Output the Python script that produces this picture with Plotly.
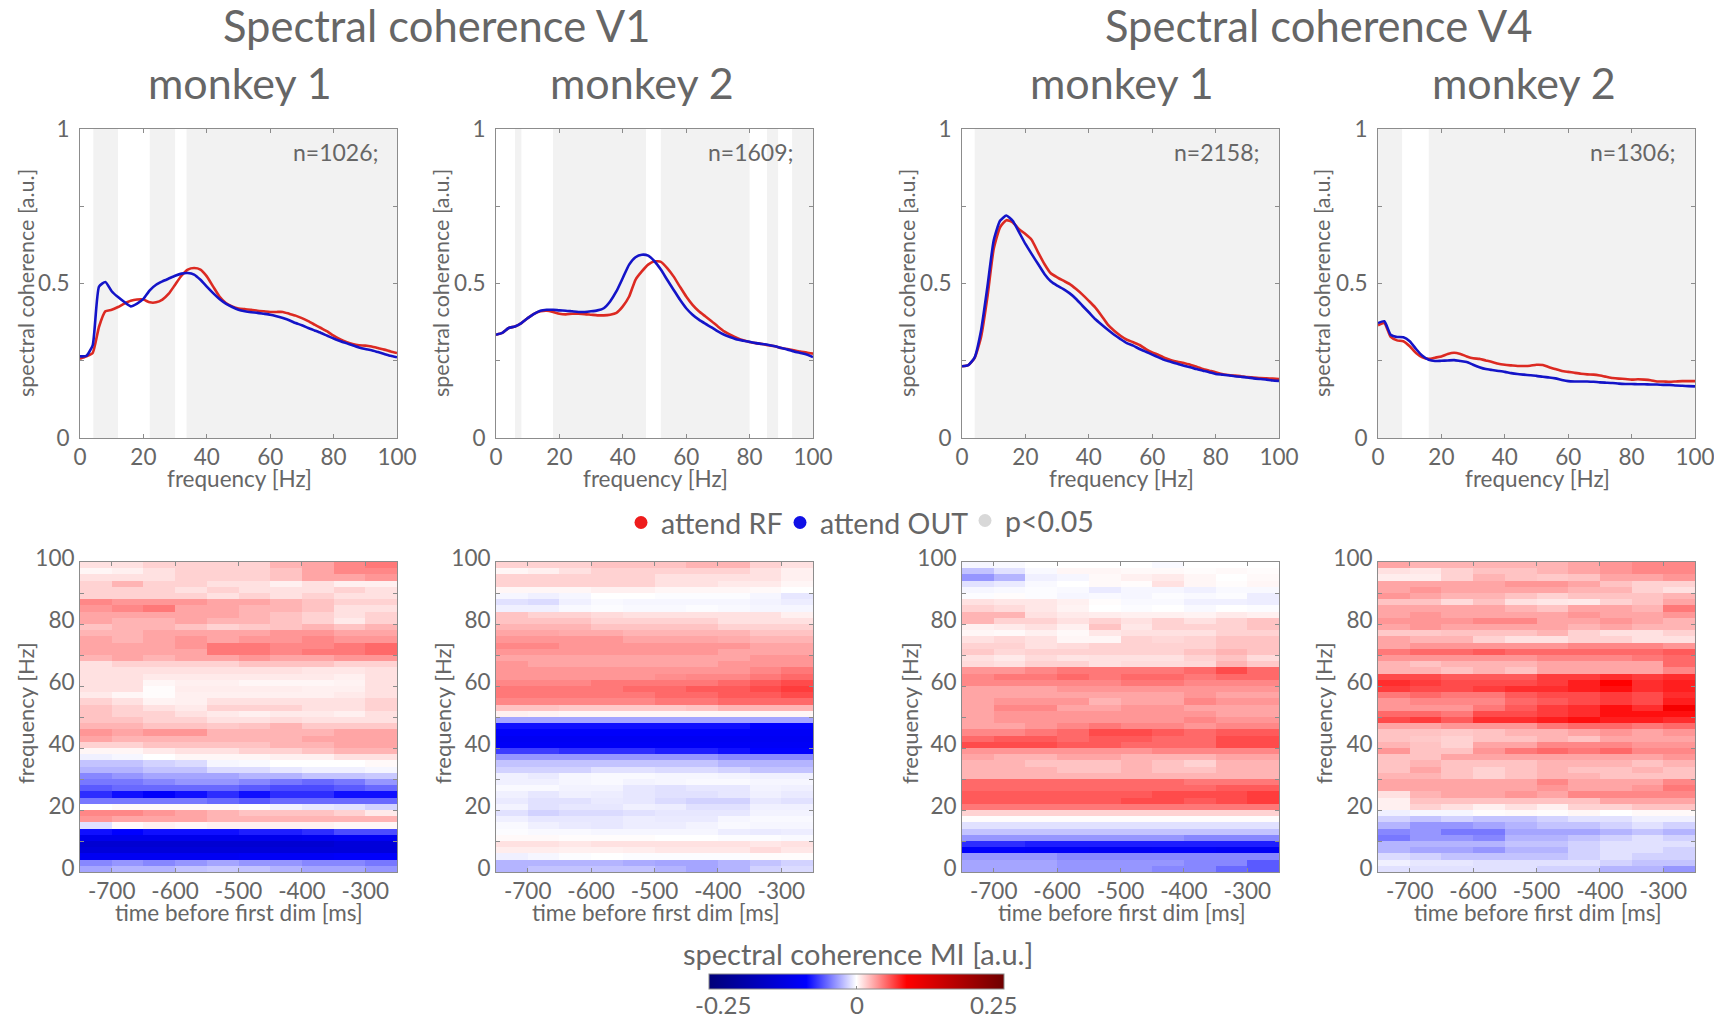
import numpy as np
import plotly.graph_objects as go

W, H = 1714, 1019
FONT = "Lato"
TXT = "#666666"
AX = "#8c8c8c"

freq = list(range(0, 101, 2))
time_centers = [-725, -675, -625, -575, -525, -475, -425, -375, -325, -275]
freq_centers = list(range(99, 0, -2))  # rows below run from 100 Hz (top) to 0 Hz (bottom)

v1m1_red = [.256,.264,.275,.36,.41,.415,.424,.435,.444,.448,.448,.439,.439,.448,.467,.496,.525,.545,.55,.545,.523,.49,.458,.437,.426,.419,.417,.415,.412,.41,.408,.408,.408,.402,.396,.388,.378,.367,.356,.345,.331,.32,.311,.304,.30,.299,.296,.291,.286,.28,.275]
v1m1_blue = [.264,.266,.30,.49,.505,.475,.456,.44,.426,.435,.45,.478,.496,.507,.516,.525,.532,.534,.529,.512,.49,.469,.45,.435,.424,.415,.41,.407,.405,.402,.399,.394,.388,.381,.372,.365,.356,.348,.34,.331,.322,.314,.307,.30,.293,.288,.284,.278,.272,.266,.261]
v1m2_red = [.334,.34,.356,.361,.372,.388,.402,.41,.412,.408,.402,.40,.402,.402,.401,.399,.397,.397,.399,.405,.426,.458,.512,.539,.561,.572,.57,.55,.523,.49,.458,.431,.41,.394,.378,.361,.345,.334,.324,.316,.311,.307,.304,.30,.297,.291,.288,.284,.28,.277,.273]
v1m2_blue = [.334,.34,.356,.361,.372,.388,.402,.412,.415,.415,.413,.412,.41,.408,.408,.41,.413,.42,.442,.475,.518,.561,.585,.593,.59,.572,.545,.512,.48,.448,.42,.399,.383,.37,.358,.345,.334,.326,.319,.315,.311,.307,.304,.301,.297,.291,.286,.28,.275,.27,.262]
v4m1_red = [.232,.236,.259,.326,.455,.612,.682,.705,.698,.676,.66,.641,.601,.563,.533,.52,.509,.498,.482,.464,.444,.423,.396,.367,.347,.331,.318,.31,.301,.288,.277,.269,.259,.252,.247,.243,.237,.231,.223,.218,.213,.207,.204,.202,.20,.197,.196,.194,.193,.192,.191]
v4m1_blue = [.232,.236,.261,.347,.488,.639,.703,.72,.703,.666,.628,.595,.563,.531,.507,.493,.482,.468,.45,.428,.407,.385,.367,.35,.334,.32,.307,.299,.288,.279,.27,.261,.252,.246,.24,.234,.229,.223,.218,.213,.207,.205,.203,.20,.198,.196,.193,.191,.189,.186,.185]
v4m2_red = [.365,.372,.327,.316,.313,.297,.275,.261,.256,.26,.264,.272,.276,.272,.264,.258,.256,.251,.246,.24,.237,.235,.233,.233,.234,.237,.236,.229,.223,.217,.214,.211,.208,.206,.205,.202,.198,.194,.192,.191,.189,.19,.189,.187,.183,.183,.182,.183,.184,.184,.184]
v4m2_blue = [.372,.378,.334,.327,.326,.313,.288,.266,.253,.249,.25,.251,.252,.249,.246,.237,.229,.223,.22,.217,.214,.21,.207,.205,.203,.201,.198,.196,.193,.188,.184,.183,.183,.183,.182,.18,.179,.178,.176,.175,.175,.174,.174,.173,.173,.172,.172,.17,.169,.168,.167]

v1m1_sig = [[4.2, 12], [22, 30], [33.6, 100]]
v1m2_sig = [[6, 8], [18, 47.3], [52, 80], [85.5, 89], [93.4, 100]]
v4m1_sig = [[4, 100]]
v4m2_sig = [[0, 7.6], [16, 100]]

# modulation index, in units of 0.01
v1m1_mi = [
[1,1,1.5,1.5,1.5,1.5,2.5,3,4,4.5],
[.3,.5,1,1.5,1.5,1.5,2,3,4,4],
[1,1,1,1.5,1.5,1.5,2,3,3,3.5],
[1.5,2.5,1.5,1.5,1,1,.5,1,.5,.5],
[1.5,1.5,1.5,1,1.5,1,1,1,1.5,1],
[1.5,1.5,1.5,1.5,1,1.5,1,1.5,1,1],
[4,3.5,3.5,3.5,3,3,2.5,2,1.5,1.5],
[3.5,4,4.5,3,3,2.5,2.5,2,1,1],
[3,3,3,3,3,2.5,2,1.5,1,1.5],
[3,2.5,2.5,3,2.5,2.5,2,1.5,.7,1.5],
[2,2.5,2.5,2,1.5,1.8,2,2.5,2,2.5],
[2.5,2.5,3,3,3,3,3.5,3.5,3,3],
[3,2.5,3,3.5,3,3.5,3.5,4,3.5,3.5],
[3,3,3,3.5,4.5,4.5,4,4,4.5,5],
[3,3,3,3,4.5,4.5,4,4.5,4.5,5],
[2.5,3,2.5,3,3,3.5,3,3,3.5,3.5],
[1,1.5,1.5,1.5,1.5,2,2,2,1.5,1.5],
[1,1,1,1,1,1,1,.8,.8,1],
[1,1,.7,.7,.7,.7,.7,.7,.5,1],
[1,1,.3,.5,.5,.3,.3,.3,.4,1],
[1,1,.1,.6,.6,.6,.6,.5,.5,1],
[.7,.3,.1,.5,.5,.5,.5,.5,.7,1],
[1.5,1,.4,.5,1,1,1,1,1,1.5],
[2,1.5,1,.7,1.5,1.5,1.5,1,1,1.5],
[2,1.5,1.5,1,.7,.5,.7,.7,.5,1],
[2,2,1.5,1.5,1,1,1.2,1,1,1],
[2.5,2.5,2,2,1.8,2,2.5,1.8,1.8,1.8],
[3.5,3,3.5,3.5,2.5,2.5,2.5,2.5,3,3],
[3,2.5,2.5,2.5,2.5,2.5,2.5,3,3,3],
[1.5,1.5,2,2,2,2,2.5,2.5,3,3],
[.3,.3,.7,1,1,1.5,1.5,2,2.5,2.5],
[-.5,-.3,0,.3,.3,.3,.5,.5,1,1],
[-2,-2,-1.5,-1.2,-.3,-.2,0,0,0,.2],
[-2.5,-2.5,-2,-2,-1.2,-1.2,-.8,-.5,-.5,-.3],
[-4,-3.5,-3,-3,-3,-2.5,-2.5,-2,-2,-1.8],
[-4.5,-4.5,-4,-3.5,-3.5,-4,-4.5,-5,-4.5,-3.5],
[-5.5,-5,-5,-5,-5,-5.5,-6,-6,-5.5,-5],
[-7,-8,-9,-8,-7,-8,-7,-7,-8,-8],
[-4.5,-4.5,-4.5,-4.5,-5,-5.5,-5,-5,-5,-5],
[0,.2,.2,.2,.2,0,-.5,-.8,-1,-1.5],
[4,4,3.5,3,2.5,2,2,2,1.5,.7],
[3.5,3,3,3,2.5,2.5,2.5,2.5,2.5,2.5],
[-1,.2,.5,.3,.5,.5,.5,.5,.3,.3],
[-8,-8.5,-8,-8,-8,-7.5,-7.5,-7,-6,-6],
[-11,-11,-11,-11,-11,-11,-11,-10.5,-10,-10],
[-14,-14,-14,-14,-14,-14,-14,-14,-13,-13],
[-13,-13,-13,-13,-13,-13,-13,-13,-13,-13],
[-10,-10,-10,-10,-10,-9.5,-9.5,-9.5,-9,-9],
[-4,-3.5,-4,-3.5,-3,-3.5,-3.5,-4,-4,-4.5],
[-3,-2.5,-2.5,-2,-1.8,-2,-2.5,-3,-3,-3.5],
]
v1m2_mi = [
[1.5,1.5,1.5,2,2,2,2.5,2.5,1.5,1],
[.3,.5,1,1.5,1.5,1.5,1.5,1.5,1,.5],
[1.5,1.5,1.5,1.5,1.5,1,1,1,1,.5],
[1.5,1.5,1.5,1.5,1.5,1,1,.7,.7,.3],
[.3,.3,.3,.5,.5,.3,.3,.3,.2,0],
[-.3,-.5,-.3,0,0,-.1,-.1,-.1,-.3,-.8],
[-1,-1.2,-.5,-.2,-.3,-.3,-.3,-.3,-.4,-.6],
[-.5,-.5,-.2,-.1,-.2,-.2,-.1,-.2,-.3,-.3],
[2,1.5,1.5,1.2,1,1,1,1,1,.5],
[2,2,2,1.5,1.5,1.5,1.5,1,1,1],
[2.5,2.5,2.5,2,2,2,2,1.5,1.5,1.5],
[3,3,2.8,2.8,2.5,2.5,2.5,2.5,2,2],
[3.5,3.5,3.5,3.5,3,3,3,2.8,2.5,2.5],
[4,4,3.5,3.5,3.5,3.5,3.5,3.5,3,3],
[3.5,3.5,3.5,3.5,3.5,3.5,3.5,3,3,3],
[3,3,3,3,3,3,3,3,3.5,3.5],
[3.5,3,3,3,3,3,3,3.5,3.5,3.5],
[3.5,3.5,3.5,3.5,3.5,3.5,3.5,3.5,4,4.5],
[3.5,3.5,3.5,3.5,3.5,3.8,4,4,4.5,5],
[4,4,4,4.5,4.5,4.5,4.5,5,5.5,6],
[4.5,4.5,4.5,4.5,5,5,5.5,5.5,6,6.5],
[4.5,4.5,4.5,4.5,4.5,5,5,5.5,5.5,6],
[4,4,4,4,4,4.5,4.5,5,5,5],
[2,2,1.8,1.8,1.8,1.8,2,2.5,2.5,2.5],
[.5,.4,.3,.3,.3,.3,.3,.3,.3,.3],
[-3,-3,-3,-3,-3,-3,-3,-3,-3,-3],
[-8,-8,-8,-8,-8,-8,-8,-8,-8.5,-8.5],
[-9,-9,-9,-9,-9,-9,-9,-9,-9.5,-9.5],
[-10,-10,-10,-10,-10,-10,-10,-10,-10,-10],
[-9.5,-9.5,-9.5,-9.5,-9.5,-9.5,-9.5,-9.5,-9.5,-9.5],
[-6.5,-6.5,-7,-7,-7,-7.5,-7.5,-8,-8.5,-8.5],
[-3.5,-3.5,-3.5,-3.5,-3.5,-3.5,-3.5,-4,-4,-4],
[-2,-2,-2,-2,-2,-2,-2,-2.5,-2.5,-2.5],
[-1.5,-1.5,-1.5,-1,-1,-1.2,-1.2,-1.5,-2,-2],
[-.5,-.7,-.3,-.2,-.2,-.3,-.3,-.4,-.5,-.5],
[-.5,-.5,-.3,-.2,-.4,-.3,-.2,-.2,-.3,-.3],
[-.2,-.2,-.4,-.4,-.8,-1,-.8,-.8,-.4,-.5],
[-.5,-.8,-.5,-.6,-.8,-1,-1,-.8,-.5,-.7],
[-.7,-1,-1,-.7,-.8,-1.2,-1.5,-1.5,-.8,-1],
[-.4,-1,-.8,-.8,-.5,-.6,-1,-1,-.5,-.5],
[-1,-1.5,-1.2,-1.2,-1,-.8,-.8,-.8,-.4,-.4],
[-.5,-.8,-.8,-.8,-.6,-.7,-.7,-.3,-.2,-.2],
[-.2,-.5,-.7,-.8,-.6,-.6,-.4,-.2,-.3,-.3],
[-.1,-.2,-.2,-.3,-.3,-.3,-.3,-.6,-.7,-.6],
[.2,.2,.1,.1,.1,0,0,-.1,-.1,-.2],
[1,1,.8,1,1,1,1,1,.8,1],
[.6,.6,.5,.5,.6,.8,.8,.8,1.2,.8],
[-.5,-.3,-.1,0,-.1,-.1,-.1,-.1,.1,.1],
[-2.5,-2.5,-2.5,-2.5,-2.8,-3,-3,-2.5,-2,-1.5],
[-2.5,-2,-2,-2,-2,-2.5,-3,-2.5,-1.5,-1.2],
]
v4m1_mi = [
[-.3,-.2,0,0,0,0,-.2,0,0,0],
[-2,-1,-.2,.3,.3,.2,.2,.1,.2,.1],
[-3.5,-2.5,-.5,-.3,.2,.5,.7,.3,0,.2],
[-1,-.7,-.2,0,.2,.1,1,.3,.1,.3],
[-.3,-.2,-.1,-.2,-.7,-.3,-.3,-.5,-.2,-.2],
[-.1,.1,-.1,-.3,-.2,-.3,-.1,-.2,-.1,-.6],
[1,.8,.8,.5,.1,-.2,-.2,-.5,-.5,-.6],
[1.5,1.2,.8,.4,0,-.1,0,-.2,0,-.1],
[2.5,2.5,1,.7,.6,.5,.5,.4,.7,.5],
[2.5,1.5,1.5,1,1.5,1,1.5,1,1.5,2],
[.5,.7,1,.5,2,.8,1.5,1.5,1.5,2],
[.3,.2,.5,.2,.8,1,1,1,1.5,1.5],
[1,1.3,1,.3,.3,1.5,1.3,1.5,2,2],
[1.5,1.5,1,1.2,1.5,1.5,1.5,1.5,2,2],
[1.8,1.3,1.5,1.5,1.5,1.5,1.5,2,2.5,2],
[1,.7,1.2,.9,1,1,1,1.5,2,1.2],
[1.2,1,1.5,1.5,1,1.2,1.2,1.3,2.5,1.8],
[3.5,3.5,4,4.5,4.5,4.5,4.5,5,6,5],
[4,4.5,4.5,5,4.5,5,5,4.5,5,5],
[4,4,4,4,4,4.5,4.5,4,4,4],
[3,3,3,3.5,3.5,3.5,3.5,3.5,3.5,3.5],
[3,3,3,3,3,3,3,3.5,3,3],
[3,3.5,3.5,3.5,2.5,3,3,4,3.5,3.5],
[3,4,4,3,3,3.5,3.5,3,3,3],
[3,3.5,3.5,3.5,3.5,3.5,3.5,3.5,3,3],
[3,3.5,3.5,3.5,3.5,3.5,3.5,4,3.5,3.5],
[3,3,3.5,4,4.5,4,4,3.5,4,4],
[4,4,4.5,5,6,6,5.5,5,5.5,5.5],
[5,5.5,5.5,5,5.5,5.5,5,5,6,6],
[6,6,6,5.5,5.5,5,5,5,6,6],
[3.5,3.5,3.5,3.5,3.5,3.5,4,4,4,4],
[3,2.5,2.5,3,3,2.5,2.5,2.5,3,3],
[2.5,2.5,2,2,2,2.5,2,1.5,2.5,2.5],
[2.5,2.5,2.5,2,2,2.5,2,2,2.5,2.5],
[2.5,2.5,2.5,2.5,2.5,2.5,2.5,2.5,2.5,2.5],
[5,5,5,5,5,5,5,4.5,4.5,4.5],
[5,5,5,5,5,5,5,5,5.5,5.5],
[5.5,5.5,5.5,5.5,5.5,5.5,6,6,6,6.5],
[5.5,5.5,5.5,5.5,5.5,6,6,5.5,6,6.5],
[4.5,4.5,4.5,4.5,4.5,4.5,4.5,4.5,4.5,4.5],
[1.5,1.5,1.5,1.5,1.5,1.5,1.5,1.5,1.5,1.5],
[.1,.1,.1,.1,.1,.1,.1,.1,.1,.1],
[-1,-1,-1,-1,-1,-1,-1,-1,-1,-1],
[-2,-2,-2,-2,-2,-2,-2,-2,-2,-2],
[-3.5,-3.5,-3.5,-3.5,-3.5,-3.5,-3.5,-4,-4,-4],
[-7,-7,-7.5,-7.5,-7.5,-7.5,-7.5,-7.5,-7.5,-7.5],
[-9,-9,-9.5,-9.5,-10,-10,-9.5,-9.5,-10,-10],
[-3.5,-3.5,-3.5,-4,-4,-4,-4,-4,-4,-4],
[-3,-3,-3,-3.5,-3.5,-3.5,-3.5,-4,-4,-5.5],
[-3,-3,-3,-3.5,-3.5,-3.5,-4,-4,-5,-5.5],
]
v4m2_mi = [
[3,2.5,2.5,2.5,2.5,2.5,3,3.5,4,4],
[1,.8,1.5,2,2,2.5,3,3.5,4,4],
[.6,.6,1.5,2.5,2,1.8,2,3,3,3.5],
[3,3,3,3,3.5,3.5,3,2,1.5,1.5],
[3,3.5,3,3,3,3,2.5,2.5,1.5,1],
[3.5,3,2.5,2.5,2,1.5,2,2,2,2.5],
[2,2,1.2,2,1,.8,.7,1.5,2,3],
[3,3,3,3,2.5,2,3,3,2.5,4.5],
[3,3.5,3,3,3,3,3.5,3,3,3.5],
[3.5,3.5,3.5,4,4,3,3,3.5,3,2.5],
[3,3.5,3,3,3,3,2.5,3,2.5,2.5],
[1.8,1.8,2,2,2,2.5,1.5,1,1,1.5],
[3,2.5,2.5,1.5,1,1,1.5,1.5,1,1],
[3,3.5,3.5,3.5,3.5,3.5,4,4,4,3.5],
[4.5,5,5,5.5,5,5,5,5,5,5.5],
[3.5,3.5,3.5,3.5,3.5,4,4,4,4.5,5],
[2.5,2,2.5,2.5,2.5,3,3,3,3,5],
[2.5,2.5,2,2.5,2,3,3,3,3,4],
[6,6,5.5,5.5,5.5,6.5,6.5,7,6.5,7],
[7,6.5,6,6,6,6.5,7.5,8.5,7,7.5],
[6.5,6,6,6.5,7,7,7.5,8,7,7.5],
[4.5,5,4.5,4.5,5.5,6,6,6.5,6,7],
[3.5,4,4,4,5,5.5,6,6.5,6,7.5],
[3.5,3.5,3.5,4.5,5.5,6.5,7,8,7,9.5],
[5,5,4.5,6,6,6.5,7,8,8,8],
[6,6.5,5.5,7,7,7.5,8,7.5,7.5,7],
[3,3,3.5,3.5,3.5,4.5,5,5,4.5,5],
[2,2,1.8,2,2.5,2.5,3,3.5,3,3.5],
[2,1.8,1.5,2,2,2.5,2,3,3,3],
[2.5,2,1.5,3,3,4,4,4,3.5,3.5],
[3.5,2,2,3.5,4.5,5,4.5,5,4,4],
[2,2,3,3,3,3,3,3,3,3.5],
[2,2.5,2,2,2,2.5,2.5,2.5,2,2.5],
[2,3,2,1.5,2,2.5,2,2,2.5,2],
[2.5,2.5,2,1.5,2,2.5,2.5,2,2,2],
[3,3,3,3,3,4,3,3,3,4],
[3,3,3,3,3,3.5,3,3,3.5,4.5],
[1,2.5,3,3,3.5,3,4,4,4,4],
[.5,2,2,2,2,2,2,3,3,3],
[.5,1.5,1,.5,1,.5,1.5,1.5,2,2],
[-.5,-.3,-.3,.1,.2,.1,.3,0,.2,.2],
[-1.5,-2,-1.5,-2,-2,-1.5,-1,-1,-.5,-.5],
[-2.5,-3.5,-3.5,-3,-2.5,-2,-2,-1.5,-1,-1.5],
[-4,-3.5,-4.5,-4.5,-3,-3,-3,-2.5,-2,-2.5],
[-4.5,-3.5,-3.5,-4,-2.5,-2.5,-2,-1.5,-1,-1.5],
[-2.5,-2.5,-2.5,-2.5,-2,-2,-1.5,-1,-1,-1],
[-2.5,-3,-3,-3.5,-2.5,-2.5,-1.5,-1,-1,-1.5],
[-1.2,-1.5,-2,-2,-2,-2,-1.5,-1,-1.5,-1.5],
[-.5,-.8,-.8,-1,-1,-1,-1,-1.5,-2,-2],
[-1,-1,-1,-1,-1,-1.5,-1.5,-2.5,-2.5,-3.5],
]

n_labels = ["n=1026;", "n=1609;", "n=2158;", "n=1306;"]
area_titles = ["Spectral coherence V1", "Spectral coherence V4"]
monkey_titles = ["monkey 1", "monkey 2", "monkey 1", "monkey 2"]
legend_names = ["attend RF", "attend OUT", "p<0.05"]
legend_colors = ["#ee1c1c", "#1010e6", "#d8d8d8"]
cbar_ticks = [-0.25, 0, 0.25]
cbar_labels = ["-0.25", "0", "0.25"]

red_series = [v1m1_red, v1m2_red, v4m1_red, v4m2_red]
blue_series = [v1m1_blue, v1m2_blue, v4m1_blue, v4m2_blue]
sig_bands = [v1m1_sig, v1m2_sig, v4m1_sig, v4m2_sig]
mi_maps = [v1m1_mi, v1m2_mi, v4m1_mi, v4m2_mi]

# layout, in page pixels
panel_x = [(80, 397), (496, 813), (962, 1279), (1378, 1695)]
top_y = (129, 438)
bot_y = (562, 872)
n_right = [381, 796, 1262, 1678]
area_cx = [436, 1318]
monkey_cx = [240, 642, 1122, 1524]
ytitle_top_off = [54, 55, 55, 56]
ytitle_bot_off = [55, 54, 53, 55]
legend_left = [621, 780, 965]
legend_y = [523, 523, 521]
cbar_label_cx = [723, 857, 993]

fig = go.Figure()
colorscale = [[0, "#000078"], [0.33, "#0000ff"], [0.5, "#ffffff"], [0.67, "#ff0000"], [1, "#6e0000"]]
tickfont = dict(family=FONT, size=22.5, color=TXT)
axis_common = dict(showline=True, linecolor=AX, linewidth=1, mirror="ticks", ticks="inside",
                   ticklen=4, tickcolor=AX, tickfont=tickfont, showgrid=False, zeroline=False,
                   ticklabeloverflow="allow")
layout = {}
shapes = []
annotations = []


def sfx(n):
    return "" if n == 1 else str(n)


def note(text, px, py, size, xanchor="center", angle=0):
    annotations.append(dict(text=text, xref="paper", yref="paper", x=px / W, y=1 - py / H,
                            xanchor=xanchor, yanchor="middle", showarrow=False, textangle=angle,
                            font=dict(family=FONT, size=size, color=TXT)))


for i in range(4):
    x0, x1 = panel_x[i]
    xd = [x0 / W, x1 / W]
    cx = (x0 + x1) / 2 + 1
    t, b = sfx(2 * i + 1), sfx(2 * i + 2)
    layout["xaxis" + t] = dict(axis_common, domain=xd, anchor="y" + t, range=[0, 100],
                               tickvals=[0, 20, 40, 60, 80, 100], ticklabelstandoff=-1)
    layout["yaxis" + t] = dict(axis_common, domain=[1 - top_y[1] / H, 1 - top_y[0] / H],
                               anchor="x" + t, range=[0, 1], ticklabelstandoff=5,
                               tickvals=[0, .25, .5, .75, 1], ticktext=["0", "", "0.5", "", "1"])
    layout["xaxis" + b] = dict(axis_common, domain=xd, anchor="y" + b, range=[-750, -250],
                               tickvals=[-700, -600, -500, -400, -300], ticklabelstandoff=-1,
                               ticktext=["-700", "-600", "-500", "-400", "-300"])
    layout["yaxis" + b] = dict(axis_common, domain=[1 - bot_y[1] / H, 1 - bot_y[0] / H],
                               anchor="x" + b, range=[0, 100], ticklabelshift=-4, ticklabelstandoff=0,
                               tickvals=list(range(0, 101, 10)),
                               ticktext=["0", "", "20", "", "40", "", "60", "", "80", "", "100"])
    note("frequency [Hz]", cx, 478, 22.5)
    note("time before first dim [ms]", cx, 912, 22.5)
    note("spectral coherence [a.u.]", x0 - ytitle_top_off[i], 283, 21.5, angle=-90)
    note("frequency [Hz]", x0 - ytitle_bot_off[i], 713, 22, angle=-90)
    for a, c in sig_bands[i]:
        shapes.append(dict(type="rect", xref="x" + t, yref="y" + t + " domain", x0=a, x1=c,
                           y0=0, y1=1, fillcolor="#f2f2f2", line_width=0, layer="below"))
    fig.add_trace(go.Scatter(x=freq, y=red_series[i], mode="lines", showlegend=False,
                             line=dict(color="#dc2a22", width=2.6, shape="spline", smoothing=0.5),
                             xaxis="x" + t, yaxis="y" + t))
    fig.add_trace(go.Scatter(x=freq, y=blue_series[i], mode="lines", showlegend=False,
                             line=dict(color="#1414c8", width=2.6, shape="spline", smoothing=0.5),
                             xaxis="x" + t, yaxis="y" + t))
    fig.add_trace(go.Heatmap(x=time_centers, y=freq_centers, z=(np.array(mi_maps[i]) / 100).tolist(),
                             coloraxis="coloraxis", xaxis="x" + b, yaxis="y" + b))
    note(n_labels[i], n_right[i], 152, 23, xanchor="right")
    note(monkey_titles[i], monkey_cx[i], 82, 43)

for cx, txt in zip(area_cx, area_titles):
    note(txt, cx, 25, 43.5)

note("spectral coherence MI [a.u.]", 857.5, 953, 29)
for cx, txt in zip(cbar_label_cx, cbar_labels):
    note(txt, cx, 1004, 24)

legends = {}
for j, (nm, col) in enumerate(zip(legend_names, legend_colors)):
    key = "legend" + sfx(j + 1)
    fig.add_trace(go.Scatter(x=[None], y=[None], mode="markers", name=nm, xaxis="x", yaxis="y",
                             legend=key, marker=dict(color=col, size=13)))
    legends[key] = dict(x=legend_left[j] / W, xanchor="left", y=1 - legend_y[j] / H, yanchor="middle",
                        font=dict(family=FONT, size=28.5, color=TXT), itemwidth=30,
                        bgcolor="rgba(0,0,0,0)")

fig.update_layout(
    width=W, height=H, margin=dict(l=0, r=0, t=0, b=0, autoexpand=False), autosize=False,
    paper_bgcolor="white", plot_bgcolor="white", font=dict(family=FONT, color=TXT),
    shapes=shapes, annotations=annotations,
    coloraxis=dict(cmin=-0.25, cmax=0.25, colorscale=colorscale,
                   colorbar=dict(orientation="h", x=856.5 / W, xanchor="center", y=1 - 974 / H, yanchor="top",
                                 thickness=15, lenmode="pixels", len=295, xpad=0, ypad=0,
                                 outlinecolor=AX, outlinewidth=1,
                                 tickvals=cbar_ticks, showticklabels=False,
                                 ticks="inside", ticklen=3, tickcolor=AX)),
    **legends,
    **layout,
)
fig.write_html("out.html", config=dict(displayModeBar=False),
               post_script="document.body.style.margin='0';document.body.style.overflow='hidden';")
